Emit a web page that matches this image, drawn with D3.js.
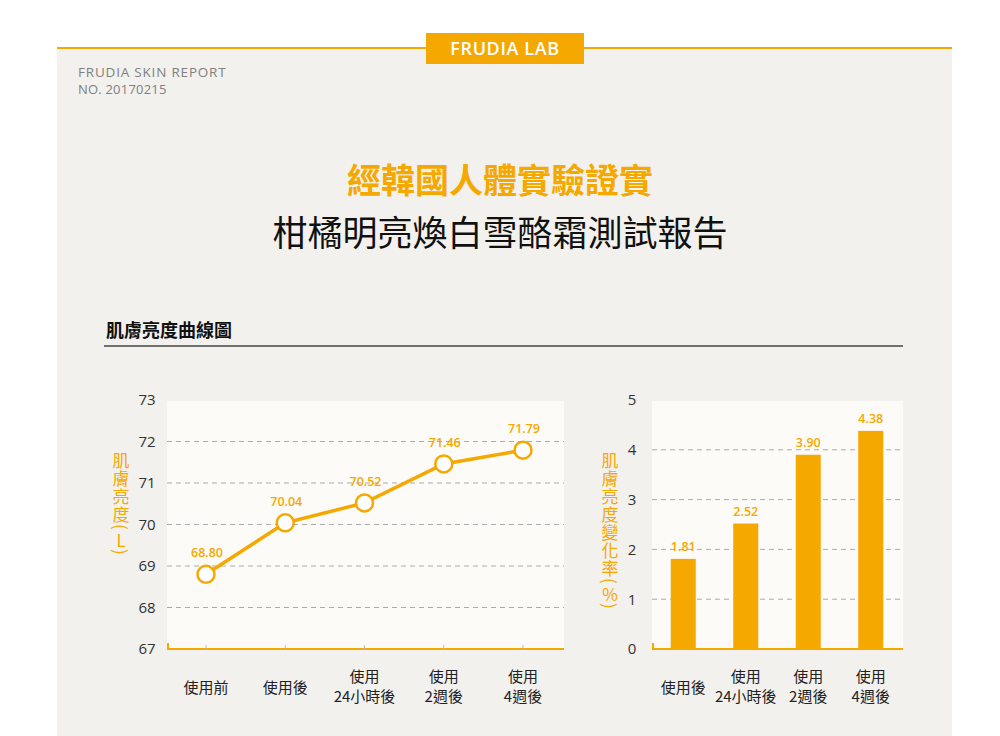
<!DOCTYPE html>
<html>
<head>
<meta charset="utf-8">
<script src="https://cdn.jsdelivr.net/npm/d3@7"></script>
<style>
  body { margin: 0; background: #fff; }
  svg { display: block; }
</style>
</head>
<body>
<script>
// data
var lineCats = ["使用前", "使用後", "使用\n24小時後", "使用\n2週後", "使用\n4週後"];
var lineVals = [68.80, 70.04, 70.52, 71.46, 71.79];
var lineTicks = [67, 68, 69, 70, 71, 72, 73];

var barCats = ["使用後", "使用\n24小時後", "使用\n2週後", "使用\n4週後"];
var barVals = [1.81, 2.52, 3.90, 4.38];
var barTicks = [0, 1, 2, 3, 4, 5];

var orange = "#f5a800";
var cjk = "'Noto Sans CJK TC', 'Noto Sans', sans-serif";
var latin = "'Open Sans', Lato, sans-serif";

var svg = d3.select("body").append("svg")
  .attr("width", 1000)
  .attr("height", 736);

// panel
svg.append("rect")
  .attr("x", 57).attr("y", 48)
  .attr("width", 895).attr("height", 700)
  .attr("fill", "#f2f1ee");

svg.append("line")
  .attr("x1", 57).attr("x2", 952)
  .attr("y1", 48).attr("y2", 48)
  .attr("stroke", orange).attr("stroke-width", 2);

svg.append("rect")
  .attr("x", 426).attr("y", 33)
  .attr("width", 158).attr("height", 31)
  .attr("fill", orange);

svg.append("text")
  .attr("x", 505).attr("y", 55)
  .attr("text-anchor", "middle")
  .style("font", "600 18px " + latin)
  .attr("letter-spacing", "0.6")
  .attr("fill", "#fff")
  .text("FRUDIA LAB");

svg.append("text")
  .attr("x", 78).attr("y", 77)
  .style("font", "13.5px " + latin)
  .attr("fill", "#808080")
  .attr("letter-spacing", "0.8")
  .text("FRUDIA SKIN REPORT");
svg.append("text")
  .attr("x", 78).attr("y", 94)
  .style("font", "13px " + latin)
  .attr("fill", "#808080")
  .attr("letter-spacing", "0.2")
  .text("NO. 20170215");

// titles
svg.append("text")
  .attr("x", 500).attr("y", 193)
  .attr("text-anchor", "middle")
  .style("font", "bold 34px " + cjk)
  .attr("fill", orange)
  .text("經韓國人體實驗證實");
svg.append("text")
  .attr("x", 500).attr("y", 246)
  .attr("text-anchor", "middle")
  .style("font", "35px " + cjk)
  .attr("fill", "#111")
  .text("柑橘明亮煥白雪酪霜測試報告");

svg.append("text")
  .attr("x", 106).attr("y", 337)
  .style("font", "bold 18px " + cjk)
  .attr("fill", "#111")
  .text("肌膚亮度曲線圖");
svg.append("line")
  .attr("x1", 104).attr("x2", 903)
  .attr("y1", 346).attr("y2", 346)
  .attr("stroke", "#444").attr("stroke-width", 1.5);

function catLabels(g, cats, xpos, y0) {
  cats.forEach(function(c, i) {
    var parts = c.split("\n");
    var t = g.append("text")
      .attr("text-anchor", "middle")
      .style("font", "15px " + cjk)
      .attr("fill", "#222");
    if (parts.length == 1) {
      t.append("tspan").attr("x", xpos(i)).attr("y", y0 + 11).text(parts[0]);
    } else {
      t.append("tspan").attr("x", xpos(i)).attr("y", y0).text(parts[0]);
      t.append("tspan").attr("x", xpos(i)).attr("y", y0 + 20).text(parts[1]);
    }
  });
}

// vertical axis title: CJK upright, brackets turned sideways
function yLabel(g, x, yTop, main, unit) {
  var t = g.append("text")
    .attr("x", x).attr("y", yTop)
    .style("writing-mode", "vertical-rl")
    .style("text-orientation", "upright")
    .style("font", "17px " + cjk)
    .attr("letter-spacing", "1")
    .attr("fill", orange);
  t.append("tspan").text(main);
  t.append("tspan").style("text-orientation", "sideways").attr("letter-spacing", "2").text("(");
  t.append("tspan").attr("letter-spacing", "0").text(unit);
  t.append("tspan").style("text-orientation", "sideways").text(")");
}

var fmtInt = d3.format("d");

// ---- line chart ----
var L = { left: 167, right: 564, top: 400, bottom: 649 };
var lx = d3.scalePoint().domain(d3.range(lineCats.length))
  .range([206, 523]);
var ly = d3.scaleLinear().domain([67, 73]).range([L.bottom, L.top]);

var lg = svg.append("g");
lg.append("rect")
  .attr("x", L.left).attr("y", L.top + 1)
  .attr("width", L.right - L.left).attr("height", L.bottom - L.top - 1)
  .attr("fill", "#fcfbf7");

lg.selectAll(".grid").data(lineTicks.filter(function(d) { return d > 67 && d < 73; }))
  .enter().append("line")
  .attr("x1", L.left).attr("x2", L.right)
  .attr("y1", function(d) { return ly(d); })
  .attr("y2", function(d) { return ly(d); })
  .attr("stroke", "#aaa").attr("stroke-dasharray", "5,4");

var yAxisL = lg.append("g")
  .attr("transform", "translate(157,0)")
  .call(d3.axisLeft(ly).tickValues(lineTicks).tickFormat(fmtInt).tickSize(0).tickPadding(0));
yAxisL.select(".domain").remove();
yAxisL.selectAll("text")
  .attr("text-anchor", "middle").attr("dx", "-10")
  .style("font", "15px " + latin).attr("fill", "#333");

lg.append("path")
  .attr("d", "M" + (L.left + 1) + "," + (L.bottom - 6) + "V" + L.bottom + "H" + L.right)
  .attr("fill", "none").attr("stroke", orange).attr("stroke-width", 2);
lg.selectAll(".xt").data(lineVals).enter().append("line")
  .attr("x1", function(d, i) { return lx(i); })
  .attr("x2", function(d, i) { return lx(i); })
  .attr("y1", L.bottom).attr("y2", L.bottom - 4)
  .attr("stroke", "#bbb");

var line = d3.line()
  .x(function(d, i) { return lx(i); })
  .y(function(d) { return ly(d); });
lg.append("path").datum(lineVals)
  .attr("d", line)
  .attr("fill", "none").attr("stroke", orange).attr("stroke-width", 3.5);

lg.selectAll(".pt").data(lineVals).enter().append("circle")
  .attr("cx", function(d, i) { return lx(i); })
  .attr("cy", function(d) { return ly(d); })
  .attr("r", 8.5)
  .attr("fill", "#fff").attr("stroke", orange).attr("stroke-width", 2.5);

lg.selectAll(".vl").data(lineVals).enter().append("text")
  .attr("x", function(d, i) { return lx(i) + 1; })
  .attr("y", function(d) { return ly(d) - 17; })
  .attr("text-anchor", "middle")
  .style("font", "600 12.5px " + latin)
  .attr("fill", orange)
  .text(function(d) { return d.toFixed(2); });

catLabels(lg, lineCats, function(i) { return lx(i); }, 682);
yLabel(lg, 121, 452, "肌膚亮度", "L");

// ---- bar chart ----
var B = { left: 652, right: 903, top: 400, bottom: 649 };
var bx = d3.scaleBand().domain(d3.range(barCats.length))
  .range([652, 902]).paddingInner(0.6).paddingOuter(0.3);
var by = d3.scaleLinear().domain([0, 5]).range([B.bottom, B.top]);

var bg = svg.append("g");
bg.append("rect")
  .attr("x", B.left).attr("y", B.top + 1)
  .attr("width", B.right - B.left).attr("height", B.bottom - B.top - 1)
  .attr("fill", "#fcfbf7");

bg.selectAll(".grid").data(barTicks.filter(function(d) { return d > 0 && d < 5; }))
  .enter().append("line")
  .attr("x1", B.left).attr("x2", B.right)
  .attr("y1", function(d) { return by(d); })
  .attr("y2", function(d) { return by(d); })
  .attr("stroke", "#aaa").attr("stroke-dasharray", "5,4");

var yAxisB = bg.append("g")
  .attr("transform", "translate(642,0)")
  .call(d3.axisLeft(by).tickValues(barTicks).tickFormat(fmtInt).tickSize(0).tickPadding(0));
yAxisB.select(".domain").remove();
yAxisB.selectAll("text")
  .attr("text-anchor", "middle").attr("dx", "-10")
  .style("font", "15px " + latin).attr("fill", "#333");

bg.selectAll(".bar").data(barVals).enter().append("rect")
  .attr("x", function(d, i) { return bx(i); })
  .attr("y", function(d) { return by(d); })
  .attr("width", bx.bandwidth())
  .attr("height", function(d) { return B.bottom - by(d); })
  .attr("fill", orange);

bg.append("path")
  .attr("d", "M" + (B.left + 1) + "," + (B.bottom - 6) + "V" + B.bottom + "H" + B.right)
  .attr("fill", "none").attr("stroke", orange).attr("stroke-width", 2);

bg.selectAll(".vl").data(barVals).enter().append("text")
  .attr("x", function(d, i) { return bx(i) + bx.bandwidth() / 2; })
  .attr("y", function(d) { return by(d) - 8; })
  .attr("text-anchor", "middle")
  .style("font", "600 12.5px " + latin)
  .attr("fill", orange)
  .text(function(d) { return d.toFixed(2); });

catLabels(bg, barCats, function(i) { return bx(i) + bx.bandwidth() / 2; }, 682);
yLabel(bg, 610, 452, "肌膚亮度變化率", "%");
</script>
</body>
</html>
